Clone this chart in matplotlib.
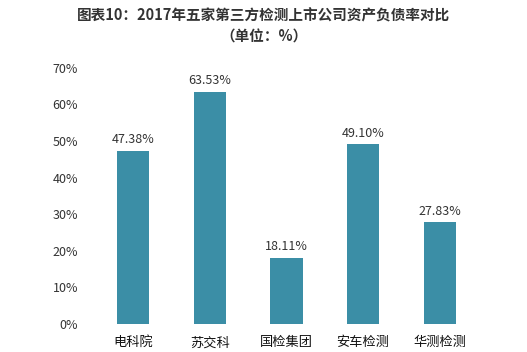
import matplotlib
matplotlib.use('Agg')
import matplotlib.pyplot as plt
from matplotlib.ticker import PercentFormatter

plt.rcParams['font.family'] = ['Noto Sans CJK SC', 'DejaVu Sans']

companies = ['电科院', '苏交科', '国检集团', '安车检测', '华测检测']
debt_ratio = [47.38, 63.53, 18.11, 49.10, 27.83]

fig = plt.figure(figsize=(5.27, 3.52), dpi=100)
ax = fig.add_axes([0.180, 0.080, 0.727, 0.727])

bars = ax.bar(range(len(companies)), debt_ratio, width=0.42, color='#3b8ea6')
for b, v in zip(bars, debt_ratio):
    ax.text(b.get_x() + b.get_width() / 2, v + 1.2, f'{v:.2f}%',
            ha='center', va='bottom', fontsize=9, color='#333333')

ax.set_xlim(-0.5, 4.5)
ax.set_ylim(0, 70)
ax.set_yticks(range(0, 71, 10))
ax.yaxis.set_major_formatter(PercentFormatter(decimals=0))
ax.set_xticks(range(len(companies)))
ax.set_xticklabels(companies, fontsize=9.5, color='#111111')
ax.tick_params(axis='y', labelsize=9, labelcolor='#333333', length=0, pad=12)
ax.tick_params(axis='x', length=0, pad=9)
for s in ax.spines.values():
    s.set_visible(False)

fig.text(0.5, 0.955, '图表10：2017年五家第三方检测上市公司资产负债率对比',
         ha='center', va='center', fontsize=10.5, fontweight='bold', color='#333333')
fig.text(0.5, 0.895, '（单位：%）', ha='center', va='center',
         fontsize=10.5, fontweight='bold', color='#333333')

fig.savefig('out.png', dpi=100)
